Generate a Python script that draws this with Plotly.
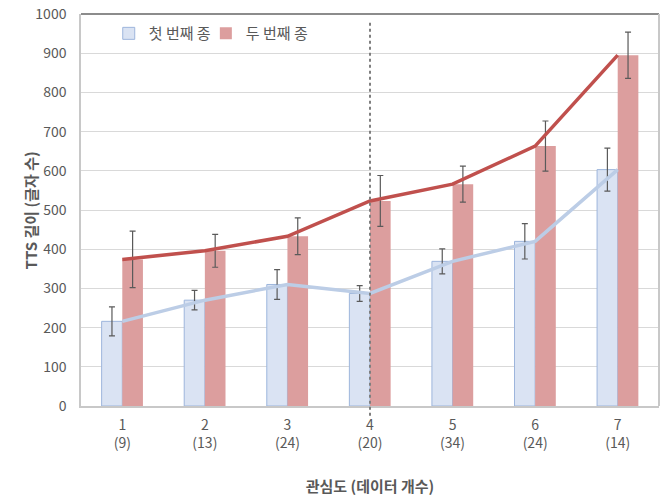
import plotly.graph_objects as go

# 관심도 카테고리 (데이터 개수)
levels = ["1", "2", "3", "4", "5", "6", "7"]
counts = [9, 13, 24, 20, 34, 24, 14]
categories = [f"{lv}<br>({n})" for lv, n in zip(levels, counts)]

# TTS 길이 평균 및 오차
first_mean = [216, 270, 310, 287, 369, 420, 603]
first_err = [37, 25, 38, 20, 32, 45, 55]
second_mean = [374, 396, 433, 523, 566, 663, 895]
second_err = [72, 42, 47, 65, 46, 64, 59]

y_ticks = list(range(0, 1001, 100))

FONT = "Noto Sans CJK KR"
GRAY = "#595959"

fig = go.Figure()

fig.add_trace(go.Bar(
    x=categories, y=first_mean, name="첫 번째 종", legend="legend",
    marker=dict(color="#dae3f3", line=dict(color="#9db5dc", width=1)),
    error_y=dict(type="data", array=first_err, color="#5a5a5a", thickness=1.2, width=3),
))
fig.add_trace(go.Bar(
    x=categories, y=second_mean, name="두 번째 종", legend="legend2",
    marker=dict(color="#dc9e9e", line=dict(width=0)),
    error_y=dict(type="data", array=second_err, color="#5a5a5a", thickness=1.2, width=3),
))

# 추세선
fig.add_trace(go.Scatter(
    x=categories, y=first_mean, mode="lines", showlegend=False,
    line=dict(color="#bccde6", width=3.5),
))
fig.add_trace(go.Scatter(
    x=categories, y=second_mean, mode="lines", showlegend=False,
    line=dict(color="#c0504d", width=3.5),
))

# 구분 점선 (관심도 4)
fig.add_shape(type="line", xref="x", yref="paper",
              x0=categories[3], x1=categories[3], y0=-0.025, y1=0.985,
              line=dict(color="#7f7f7f", width=2, dash="dot"))
# 위쪽 / 오른쪽 테두리
fig.add_shape(type="line", xref="paper", yref="paper", x0=0, x1=1, y0=1, y1=1,
              line=dict(color="#8c8c8c", width=2))
fig.add_shape(type="line", xref="paper", yref="paper", x0=1, x1=1, y0=0, y1=1,
              line=dict(color="#c8c8c8", width=2))

# y축 제목
fig.add_annotation(text="<b>TTS 길이 (글자 수)</b>", xref="paper", yref="paper",
                   x=-0.109, y=0.5, textangle=-90, showarrow=False,
                   font=dict(size=15, color=GRAY))

legend_style = dict(orientation="h", y=0.95, xanchor="left", yanchor="middle",
                    font=dict(size=15, color=GRAY), bgcolor="rgba(255,255,255,0)")

fig.update_layout(
    width=665, height=502,
    margin=dict(l=81, r=6, t=14, b=96),
    paper_bgcolor="white", plot_bgcolor="white",
    font=dict(family=FONT, color=GRAY, size=13),
    barmode="group", bargap=0.5, bargroupgap=0,
    legend=dict(x=0.048, **legend_style),
    legend2=dict(x=0.216, **legend_style),
    xaxis=dict(
        automargin=False,
        showgrid=False, showline=True, linecolor="#c8c8c8", linewidth=1.5,
        ticklabelstandoff=5, ticklabeloverflow="allow",
        tickfont=dict(size=14, color=GRAY),
        title=dict(text="<b>관심도 (데이터 개수)</b>", font=dict(size=15, color=GRAY), standoff=31),
    ),
    yaxis=dict(
        automargin=False,
        range=[0, 1000], tickvals=y_ticks,
        showgrid=True, gridcolor="#d9d9d9", gridwidth=1,
        showline=True, linecolor="#c8c8c8", linewidth=1.5,
        zeroline=False, ticklabelstandoff=10, ticklabeloverflow="allow",
        tickfont=dict(size=14, color=GRAY),
    ),
)

# drop the default body margin so the figure sits at the page corner
fig.write_html("out.html", config={"displayModeBar": False},
               post_script="document.body.style.margin='0';")
